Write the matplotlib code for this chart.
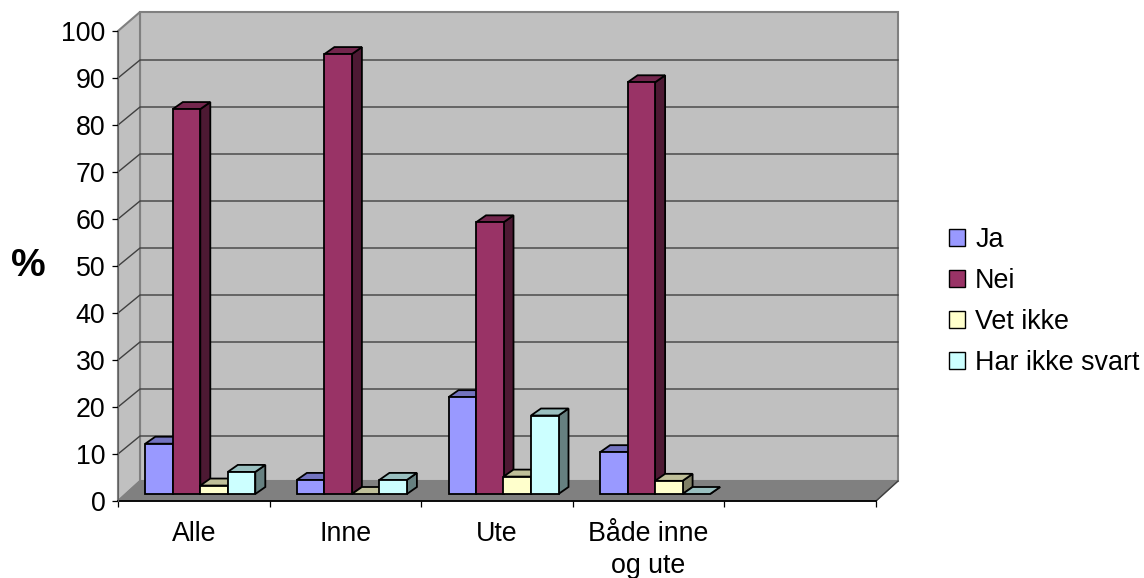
import matplotlib
matplotlib.use("Agg")
import matplotlib.pyplot as plt
from matplotlib.patches import Polygon, Patch

plt.rcParams['font.family'] = ['Liberation Sans', 'DejaVu Sans']

categories = ["Alle", "Inne", "Ute", "Både inne\nog ute", ""]
series_names = ["Ja", "Nei", "Vet ikke", "Har ikke svart"]
ja = [10.7, 3, 20.6, 8.9]
nei = [81.9, 93.6, 57.8, 87.6]
vet_ikke = [1.8, 0, 3.7, 2.8]
har_ikke_svart = [4.7, 3, 16.7, 0]
y_ticks = list(range(0, 101, 10))

front = ["#9999FF", "#993366", "#FFFFCC", "#CCFFFF"]
top = ["#7373BF", "#73264D", "#BFBF99", "#99BFBF"]
side = ["#4D4D80", "#4D1933", "#808066", "#668080"]

W, H = 1144, 578
L, R, T, B = 118, 876, 31, 501  # front plane in pixels

fig = plt.figure(figsize=(W / 100, H / 100), dpi=100)
ax = fig.add_axes([L / W, 1 - B / H, (R - L) / W, (B - T) / H])
ax.set_xlim(0, 5)
ax.set_ylim(0, 100)
ax.patch.set_visible(False)

# pixels to data units, the chart is a fake oblique 3d
px_x = 5 / (R - L)
px_y = 100 / (B - T)
wall_dx, wall_dy = 22 * px_x, 20 * px_y
wall_top_dy = 19 * px_y
grid_dy = 18 * px_y
bar_dx, bar_dy = 10 * px_x, 7 * px_y
bar_off_x, bar_off_y = 6.5 * px_x, 7 * px_y
bar_w = 27.5 * px_x
gap = (1 - 4 * bar_w) / 2


def poly(pts, fc, ec, lw=1.0, z=1):
    ax.add_patch(Polygon(pts, closed=True, facecolor=fc, edgecolor=ec, linewidth=lw,
                         zorder=z, clip_on=False, joinstyle='miter'))


# back wall, side wall, floor
poly([(wall_dx, wall_dy), (5 + wall_dx, wall_dy), (5 + wall_dx, 100 + wall_top_dy), (wall_dx, 100 + wall_top_dy)],
     "#C0C0C0", "#808080", 1.5)
poly([(0, 0), (wall_dx, wall_dy), (wall_dx, 100 + wall_top_dy), (0, 100)], "#C0C0C0", "#808080", 1.5)
poly([(0, 0), (5, 0), (5 + wall_dx, wall_dy), (wall_dx, wall_dy)], "#808080", "#808080", 1.0)

for v in y_ticks[1:-1]:
    ax.plot([0, wall_dx, 5 + wall_dx], [v, v + grid_dy, v + grid_dy], color="#404040", lw=1.0,
            zorder=1.5, clip_on=False)
ax.plot([5, 5 + wall_dx], [0, wall_dy], color="#404040", lw=1.0, zorder=1.5, clip_on=False)

# bars, left to right so the next bar covers the side of the one before
for s, values in enumerate([ja, nei, vet_ikke, har_ikke_svart]):
    for c, v in enumerate(values):
        x0 = c + gap + s * bar_w + bar_off_x
        x1 = x0 + bar_w
        y0 = bar_off_y
        y1 = y0 + v
        z = 2 + c + s * 0.1
        poly([(x1, y0), (x1 + bar_dx, y0 + bar_dy), (x1 + bar_dx, y1 + bar_dy), (x1, y1)], side[s], "black", 1.3, z)
        poly([(x0, y1), (x1, y1), (x1 + bar_dx, y1 + bar_dy), (x0 + bar_dx, y1 + bar_dy)], top[s], "black", 1.3, z)
        if v > 0:
            poly([(x0, y0), (x1, y0), (x1, y1), (x0, y1)], front[s], "black", 1.3, z)

for name in ["top", "right"]:
    ax.spines[name].set_visible(False)
ax.spines["left"].set_color("#606060")
ax.spines["bottom"].set_linewidth(1.3)
ax.spines["bottom"].set_zorder(1.8)

ax.set_yticks(y_ticks)
ax.tick_params(axis='y', length=4.5, width=0.9, labelsize=19.3, pad=4.5)
ax.set_xticks(range(6))
ax.set_xticklabels([])
ax.tick_params(axis='x', which='major', length=4.5, width=0.9)
ax.set_xticks([i + 0.5 for i in range(5)], minor=True)
ax.set_xticklabels(categories, minor=True, fontsize=19.3, linespacing=1.3)
ax.tick_params(axis='x', which='minor', length=0, pad=14.5)

fig.text(28 / W, 1 - 266 / H, "%", fontsize=28, fontweight='bold', ha='center', va='center')

handles = [Patch(facecolor=f, edgecolor="black", linewidth=1.0) for f in front]
fig.legend(handles, series_names, loc='center left', bbox_to_anchor=(949 / W, 1 - 301.5 / H), frameon=False,
           fontsize=19.4, handlelength=0.6, handleheight=0.6, handletextpad=0.37, labelspacing=0.56,
           borderpad=0, borderaxespad=0)

fig.savefig("out.png", dpi=100)
